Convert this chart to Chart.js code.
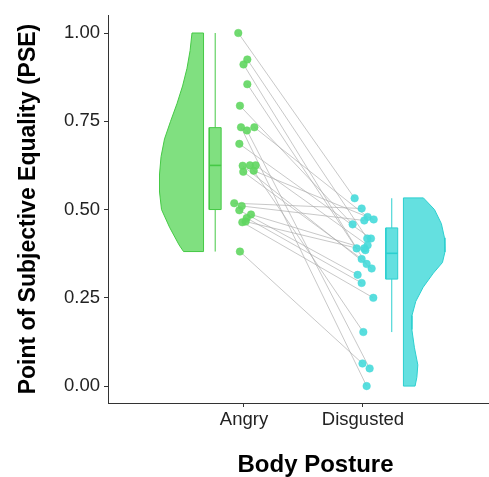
<!DOCTYPE html>
<html>
<head>
<meta charset="utf-8">
<title>PSE by body posture</title>
<script src="https://cdn.jsdelivr.net/npm/chart.js@4.4.1/dist/chart.umd.min.js"></script>
<style>
  html, body { margin: 0; padding: 0; background: #fff; }
  #wrap { width: 489px; height: 477px; overflow: hidden; }
  canvas { display: block; }
</style>
</head>
<body>
<div id="wrap"><canvas id="pseChart" width="530" height="477"></canvas></div>
<script>
// categories and tick labels
const categories = ['Angry', 'Disgusted'];
const yTicks = [0, 0.25, 0.5, 0.75, 1];

// per-participant PSE, same participant order in both conditions
const angryPSE = [1.000, 0.925, 0.911, 0.855, 0.794, 0.733, 0.724, 0.733, 0.686, 0.624, 0.625,
                  0.625, 0.607, 0.610, 0.518, 0.510, 0.498, 0.486, 0.476, 0.464, 0.466, 0.381];
const disgustedPSE = [0.532, 0.418, 0.390, 0.346, 0.458, 0.000, 0.050, 0.479, 0.418, 0.333, 0.153,
                      0.399, 0.360, 0.472, 0.503, 0.469, 0.315, 0.390, 0.292, 0.250, 0.385, 0.064];
// jittered x of each point on the category axis (1 = Angry, 2 = Disgusted)
const angryJitter = [0.952, 1.028, 0.996, 1.028, 0.966, 0.975, 1.025, 1.087, 0.961, 0.989, 1.050,
                     1.098, 0.994, 1.082, 0.918, 0.981, 0.961, 1.059, 1.023, 0.986, 1.014, 0.966];
const disgustedJitter = [1.930, 2.036, 1.947, 2.031, 1.913, 2.031, 2.056, 2.039, 2.067, 2.073, 2.003,
                         2.039, 1.989, 2.090, 1.989, 2.011, 1.955, 2.011, 1.989, 2.087, 2.020, 1.996];

// boxplot summaries [Angry, Disgusted]
const boxQ1 = [0.500, 0.303];
const boxMedian = [0.625, 0.376];
const boxQ3 = [0.732, 0.448];
const whiskerLow = [0.381, 0.153];
const whiskerHigh = [1.000, 0.532];

// half-violin density (half width in category units) at each PSE level
const angryDensityY = [1.00, 0.95, 0.90, 0.85, 0.80, 0.75, 0.70, 0.65, 0.60, 0.55, 0.50, 0.45, 0.40, 0.381];
const angryDensity = [0.097, 0.113, 0.139, 0.176, 0.223, 0.277, 0.328, 0.357, 0.370, 0.370, 0.353, 0.286, 0.206, 0.168];
const disgustedDensityY = [0.533, 0.50, 0.46, 0.42, 0.38, 0.35, 0.32, 0.28, 0.24, 0.20, 0.16, 0.11, 0.06, 0.025, 0.0];
const disgustedDensity = [0.168, 0.261, 0.319, 0.345, 0.349, 0.328, 0.252, 0.166, 0.104, 0.072, 0.071, 0.092, 0.121, 0.113, 0.098];

// ---------- styling ----------
const GREEN = { fill: 'rgba(128,224,128,1)', line: '#45c945', point: 'rgba(96,214,96,0.9)' };
const CYAN = { fill: 'rgba(100,224,224,1)', line: '#2ccfcf', point: 'rgba(70,218,218,0.9)' };
const FONT = 'Liberation Sans, Arial, sans-serif';
const VIOLIN_GAP = 0.34;
const BOX_GAP = 0.242;
const BOX_HALF = 0.05;
const GAP = { x: NaN, y: NaN };

// half violin: flat side facing the points, curved side away from them
const halfViolin = (cat, side, levels, widths) => {
  const edge = cat + side * VIOLIN_GAP;
  const pts = [{ x: edge, y: levels[0] }];
  levels.forEach((y, i) => pts.push({ x: edge + side * widths[i], y }));
  pts.push({ x: edge, y: levels[levels.length - 1] });
  pts.push({ x: edge, y: levels[0] });
  return pts;
};

const boxRect = (i, side) => {
  const c = (i + 1) + side * BOX_GAP;
  return [
    { x: c - BOX_HALF, y: boxQ1[i] }, { x: c + BOX_HALF, y: boxQ1[i] },
    { x: c + BOX_HALF, y: boxQ3[i] }, { x: c - BOX_HALF, y: boxQ3[i] },
    { x: c - BOX_HALF, y: boxQ1[i] }
  ];
};
const medianLine = (i, side) => {
  const c = (i + 1) + side * BOX_GAP;
  return [{ x: c - BOX_HALF, y: boxMedian[i] }, { x: c + BOX_HALF, y: boxMedian[i] }];
};
const whiskers = (i, side) => {
  const c = (i + 1) + side * BOX_GAP;
  return [{ x: c, y: boxQ3[i] }, { x: c, y: whiskerHigh[i] }, GAP,
          { x: c, y: whiskerLow[i] }, { x: c, y: boxQ1[i] }];
};

// gray lines joining each participant's two conditions
const pairLines = [];
angryPSE.forEach((a, i) => {
  pairLines.push({ x: angryJitter[i], y: a }, { x: disgustedJitter[i], y: disgustedPSE[i] }, GAP);
});

const shape = (data, col, width) => ({
  data, showLine: true, fill: 'shape', backgroundColor: col.fill,
  borderColor: col.line, borderWidth: width, pointRadius: 0, tension: 0
});
const stroke = (data, color, width) => ({
  data, showLine: true, fill: false, borderColor: color, borderWidth: width,
  pointRadius: 0, tension: 0, spanGaps: false
});
const points = (xs, ys, col) => ({
  data: xs.map((x, i) => ({ x, y: ys[i] })), showLine: false,
  pointRadius: 3.8, pointBackgroundColor: col.point, pointBorderColor: col.point, pointBorderWidth: 0.5
});

// first dataset is drawn on top
const datasets = [
  points(angryJitter, angryPSE, GREEN),
  points(disgustedJitter, disgustedPSE, CYAN),
  stroke(pairLines, 'rgba(170,170,170,0.65)', 1),
  stroke(medianLine(0, -1), GREEN.line, 1.6),
  stroke(medianLine(1, 1), CYAN.line, 1.6),
  shape(boxRect(0, -1), GREEN, 1),
  shape(boxRect(1, 1), CYAN, 1),
  stroke(whiskers(0, -1), GREEN.line, 1),
  stroke(whiskers(1, 1), CYAN.line, 1),
  shape(halfViolin(1, -1, angryDensityY, angryDensity), GREEN, 1),
  shape(halfViolin(2, 1, disgustedDensityY, disgustedDensity), CYAN, 1)
];

const axisColor = '#333';

new Chart(document.getElementById('pseChart'), {
  type: 'line',
  data: { datasets },
  options: {
    responsive: false,
    animation: false,
    devicePixelRatio: 1,
    events: [],
    layout: { padding: { left: 0, top: 13, right: 7, bottom: 0 } },
    plugins: { legend: { display: false }, tooltip: { enabled: false } },
    scales: {
      x: {
        type: 'linear',
        min: -0.1429,
        max: 3.345,
        afterFit: (s) => { s.height = 74; },
        afterBuildTicks: (s) => { s.ticks = categories.map((c, i) => ({ value: i + 1 })); },
        ticks: {
          callback: (v) => categories[v - 1],
          autoSkip: false, maxRotation: 0, padding: 2,
          color: '#222', font: { family: FONT, size: 18.5 }
        },
        grid: { drawOnChartArea: false, drawTicks: true, tickLength: 4, color: axisColor },
        border: { display: true, color: axisColor, width: 1 },
        title: {
          display: true, text: 'Body Posture', color: '#000',
          font: { family: FONT, size: 24, weight: 'bold', lineHeight: 1.0 },
          padding: { top: 0, bottom: 0 }
        }
      },
      y: {
        min: -0.0479,
        max: 1.0507,
        afterFit: (s) => { s.width = 108; },
        afterBuildTicks: (s) => { s.ticks = yTicks.map(v => ({ value: v })); },
        ticks: {
          callback: (v) => v.toFixed(2),
          padding: 4, color: '#222', font: { family: FONT, size: 18.5 }
        },
        grid: { drawOnChartArea: false, drawTicks: true, tickLength: 4, color: axisColor },
        border: { display: true, color: axisColor, width: 1 },
        title: {
          display: true, text: 'Point of Subjective Equality (PSE)', color: '#000',
          font: { family: FONT, size: 23, weight: 'bold' },
          padding: { top: 15, bottom: 0 }
        }
      }
    }
  }
});
</script>
</body>
</html>
